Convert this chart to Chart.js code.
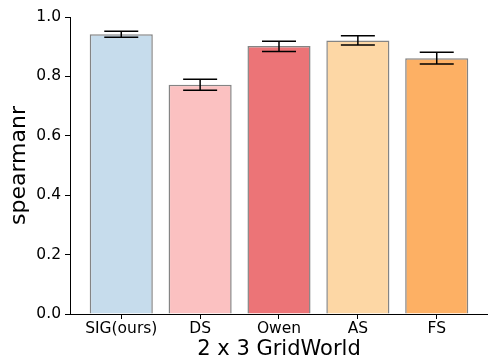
<!DOCTYPE html>
<html>
<head>
<meta charset="utf-8">
<script src="https://cdn.jsdelivr.net/npm/chart.js@4"></script>
<style>
  html, body { margin: 0; padding: 0; background: #fff; }
  #wrap { width: 488px; height: 362px; }
</style>
</head>
<body>
<div id="wrap"><canvas id="chart" width="488" height="362"></canvas></div>
<script>
// data
const methods = ['SIG(ours)', 'DS', 'Owen', 'AS', 'FS'];
const spearman = [0.942, 0.772, 0.902, 0.921, 0.861];
const errLow = [0.932, 0.753, 0.884, 0.906, 0.842];
const errHigh = [0.952, 0.790, 0.918, 0.937, 0.881];
const yTicks = [0, 0.2, 0.4, 0.6, 0.8, 1.0];
const barColors = ['#c6dcec', '#fbc1c1', '#ec7477', '#fdd7a5', '#fdb064'];

const FONT = "'DejaVu Sans', sans-serif";

// draws the error bars with caps using the chart scales
const errorBars = {
    id: 'errorBars',
    afterDatasetsDraw(chart) {
        const { ctx, scales: { x, y } } = chart;
        ctx.save();
        ctx.strokeStyle = '#000';
        ctx.lineWidth = 1.5;
        methods.forEach((m, i) => {
            const px = x.getPixelForValue(i);
            const lo = y.getPixelForValue(errLow[i]);
            const hi = y.getPixelForValue(errHigh[i]);
            const cap = 17;
            ctx.beginPath();
            ctx.moveTo(px, lo); ctx.lineTo(px, hi);
            ctx.moveTo(px - cap, lo); ctx.lineTo(px + cap, lo);
            ctx.moveTo(px - cap, hi); ctx.lineTo(px + cap, hi);
            ctx.stroke();
        });
        ctx.restore();
    }
};

new Chart(document.getElementById('chart'), {
    type: 'bar',
    data: {
        datasets: [{
            data: methods.map((m, i) => ({ x: i, y: spearman[i] })),
            backgroundColor: barColors,
            borderColor: 'rgba(80, 80, 80, 0.7)',
            borderWidth: 1.5,
            barPercentage: 0.8,
            categoryPercentage: 1.0
        }]
    },
    options: {
        responsive: false,
        animation: false,
        layout: { padding: { top: 17, right: 0, left: 0, bottom: 0 } },
        plugins: { legend: { display: false }, tooltip: { enabled: false } },
        scales: {
            x: {
                type: 'linear',
                offset: false,
                min: -0.65,
                max: 4.65,
                afterBuildTicks: s => { s.ticks = methods.map((m, i) => ({ value: i })); },
                afterFit: s => { s.height = 48; },
                ticks: {
                    color: '#000',
                    font: { family: FONT, size: 15.5 },
                    padding: 1,
                    maxRotation: 0,
                    autoSkip: false,
                    callback: v => methods[v]
                },
                grid: { drawOnChartArea: false, offset: false, tickLength: 5, color: '#000', lineWidth: 1 },
                border: { color: '#000', width: 1 },
                title: {
                    display: true,
                    text: '2 x 3 GridWorld',
                    color: '#000',
                    font: { family: FONT, size: 21 },
                    padding: { top: 0, bottom: 0 }
                }
            },
            y: {
                min: 0,
                max: 1,
                afterBuildTicks: s => { s.ticks = yTicks.map(v => ({ value: v })); },
                afterFit: s => { s.width = 70; },
                ticks: {
                    color: '#000',
                    font: { family: FONT, size: 15.5 },
                    padding: 4,
                    callback: v => v.toFixed(1)
                },
                grid: { drawOnChartArea: false, tickLength: 5, color: '#000', lineWidth: 1 },
                border: { color: '#000', width: 1 },
                title: {
                    display: true,
                    text: 'spearmanr',
                    color: '#000',
                    font: { family: FONT, size: 22 },
                    padding: { top: 6, bottom: 0 }
                }
            }
        }
    },
    plugins: [errorBars]
});
</script>
</body>
</html>
